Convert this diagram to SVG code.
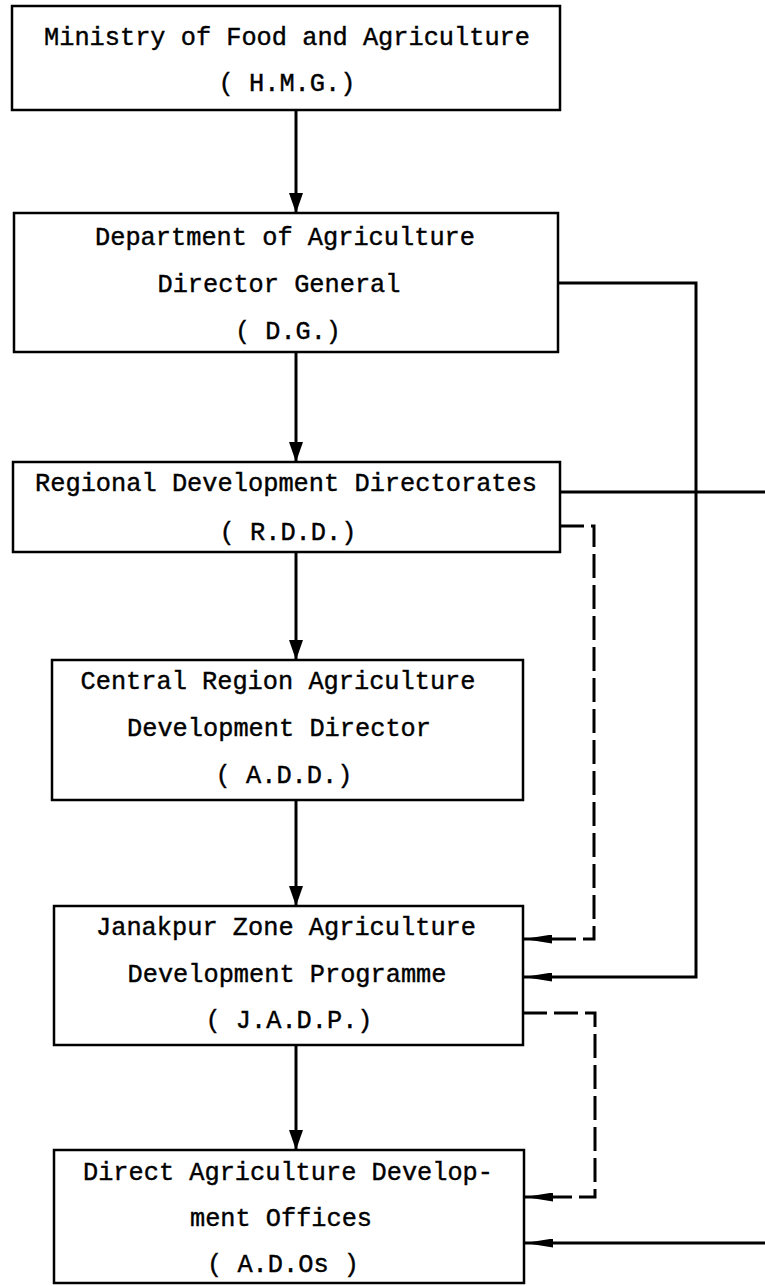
<svg xmlns="http://www.w3.org/2000/svg" width="765" height="1286" viewBox="0 0 765 1286">
<style>
.box{fill:#fff;stroke:#000;stroke-width:2.5}
.t{font-family:"Liberation Mono","DejaVu Sans Mono",monospace;font-size:25px;fill:#000;stroke:#000;stroke-width:0.4;text-anchor:middle}
.c{fill:none;stroke:#000;stroke-width:3}
.d{fill:none;stroke:#000;stroke-width:3;stroke-dasharray:24 7}
</style>
<defs>
<marker id="av" markerUnits="userSpaceOnUse" markerWidth="20" markerHeight="14" refX="20" refY="7" orient="auto"><path d="M0,0 L20,7 L0,14 Z" fill="#000"/></marker>
<marker id="ah" markerUnits="userSpaceOnUse" markerWidth="28" markerHeight="9" refX="28" refY="4.5" orient="auto"><path d="M0,0 L28,4.5 L0,9 Z" fill="#000"/></marker>
</defs>
<rect width="765" height="1286" fill="#fff"/>
<g id="connectors">
<path class="c" d="M296,110 V213" marker-end="url(#av)"/>
<path class="c" d="M296,352 V462" marker-end="url(#av)"/>
<path class="c" d="M296,552 V660" marker-end="url(#av)"/>
<path class="c" d="M296,800 V906" marker-end="url(#av)"/>
<path class="c" d="M296,1045 V1150" marker-end="url(#av)"/>
<path class="c" d="M558,283 H696 V977 H524" marker-end="url(#ah)"/>
<path class="c" d="M560,492 H765"/>
<path class="d" d="M560,526 H594 V939 H524" marker-end="url(#ah)"/>
<path class="d" d="M523,1013 H595 V1197 H525" marker-end="url(#ah)"/>
<path class="c" d="M765,1243 H525" marker-end="url(#ah)"/>
</g>
<g id="n1">
<rect class="box" x="12" y="6" width="548" height="104"/>
<text class="t" x="287" y="45" textLength="486" lengthAdjust="spacingAndGlyphs">Ministry of Food and Agriculture</text>
<text class="t" x="287" y="91" textLength="137" lengthAdjust="spacingAndGlyphs">( H.M.G.)</text>
</g>
<g id="n2">
<rect class="box" x="14" y="213" width="544" height="139"/>
<text class="t" x="285" y="245" textLength="380" lengthAdjust="spacingAndGlyphs">Department of Agriculture</text>
<text class="t" x="279" y="292" textLength="243" lengthAdjust="spacingAndGlyphs">Director General</text>
<text class="t" x="288" y="339" textLength="106" lengthAdjust="spacingAndGlyphs">( D.G.)</text>
</g>
<g id="n3">
<rect class="box" x="13" y="462" width="547" height="90"/>
<text class="t" x="286" y="491" textLength="502" lengthAdjust="spacingAndGlyphs">Regional Development Directorates</text>
<text class="t" x="288" y="540" textLength="137" lengthAdjust="spacingAndGlyphs">( R.D.D.)</text>
</g>
<g id="n4">
<rect class="box" x="52" y="660" width="471" height="140"/>
<text class="t" x="278" y="689" textLength="395" lengthAdjust="spacingAndGlyphs">Central Region Agriculture</text>
<text class="t" x="279" y="736" textLength="304" lengthAdjust="spacingAndGlyphs">Development Director</text>
<text class="t" x="284" y="783" textLength="137" lengthAdjust="spacingAndGlyphs">( A.D.D.)</text>
</g>
<g id="n5">
<rect class="box" x="54" y="906" width="469" height="139"/>
<text class="t" x="286" y="935" textLength="380" lengthAdjust="spacingAndGlyphs">Janakpur Zone Agriculture</text>
<text class="t" x="287" y="982" textLength="319" lengthAdjust="spacingAndGlyphs">Development Programme</text>
<text class="t" x="289" y="1028" textLength="167" lengthAdjust="spacingAndGlyphs">( J.A.D.P.)</text>
</g>
<g id="n6">
<rect class="box" x="54" y="1150" width="470" height="133"/>
<text class="t" x="288" y="1180" textLength="410" lengthAdjust="spacingAndGlyphs">Direct Agriculture Develop-</text>
<text class="t" x="281" y="1226" textLength="182" lengthAdjust="spacingAndGlyphs">ment Offices</text>
<text class="t" x="283" y="1272" textLength="152" lengthAdjust="spacingAndGlyphs">( A.D.Os )</text>
</g>
</svg>
